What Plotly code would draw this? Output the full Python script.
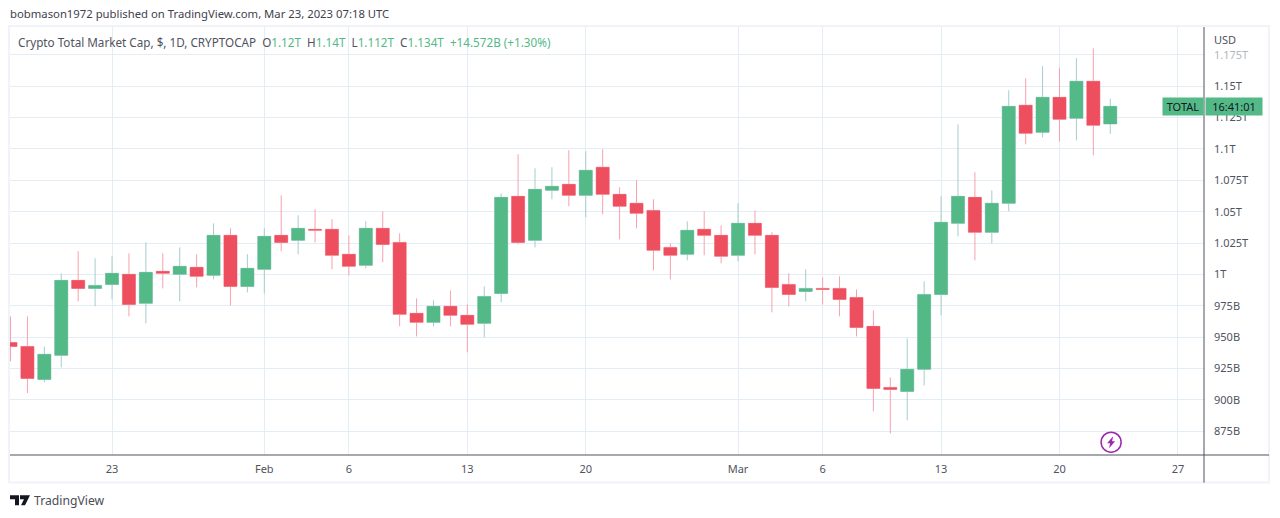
import plotly.graph_objects as go
import pandas as pd

# daily candles, values in billions of USD
dates = pd.date_range("2023-01-17", "2023-03-23", freq="D")
opens = [945.7, 942.5, 916.2, 935.4, 995.2, 988.8, 992, 1000, 976.9, 1002.4, 1000, 1005.6, 999.2, 1031.1, 990.4,
         1004, 1031.1, 1027.1, 1035.9, 1035.9, 1016, 1007.2, 1036.7, 1025.5, 968.9, 961.7, 974.5, 967.3, 960.9,
         984.8, 1062.2, 1027.1, 1067, 1071.8, 1063, 1085.4, 1063.8, 1056.7, 1051, 1021.5, 1016, 1035.9, 1031.1,
         1015.2, 1040.7, 1031.1, 992, 986.4, 988.8, 988.8, 981.6, 958.5, 909.8, 906.6, 924.2,
         984, 1040.7, 1061.4, 1033.5, 1056.7, 1134.9, 1113.3, 1141.2, 1124.5, 1154, 1120]
highs = [966.5, 966.5, 942.5, 1000.8, 1018.4, 1012.8, 1014.4, 1016.8, 1025.5, 1016.8, 1021.5, 1016, 1040.7, 1036.7, 1016,
         1036.7, 1063, 1047.1, 1051.9, 1043.9, 1031.1, 1042.3, 1050.3, 1032.7, 980.8, 979.3, 987.2, 976, 990.4,
         1064.6, 1095.8, 1084.6, 1085.4, 1099, 1098.2, 1099.8, 1069.4, 1075, 1059.9, 1024.7, 1042.3, 1050.3, 1039.1,
         1056.7, 1051, 1033.5, 1000.8, 1004, 997.6, 998.4, 988, 971.3, 917.8, 948.9, 994.4,
         1062.2, 1119.7, 1081.4, 1067, 1146.8, 1156.4, 1166, 1164.4, 1172.4, 1180.3, 1140]
lows = [930.6, 905.3, 913.8, 925.8, 978.5, 974.5, 980, 966.5, 960.9, 988.8, 978.5, 989.6, 996, 975.3, 985.6,
        984.8, 1018.4, 1016, 1025.5, 1004, 999.2, 1004.8, 1009.6, 958.5, 950.5, 958.5, 958.5, 937.8, 949.7,
        977.7, 1023.9, 1021.5, 1059.9, 1054.3, 1045.5, 1047.9, 1027.9, 1036.7, 1003.2, 996, 1011.2, 1015.2, 1008.8,
        1010.4, 1016, 969.7, 974.5, 978.5, 976, 966.5, 950.5, 890.7, 873.1, 883.5, 911.4,
        967.3, 1030.3, 1011.2, 1024.7, 1050.3, 1103.7, 1109.3, 1106.1, 1106.9, 1095, 1112]
closes = [942.5, 917, 936.2, 995.2, 988.8, 991.2, 1000.8, 976, 1001.6, 1000.8, 1006.4, 998.4, 1031.1, 990.4, 1004.8,
          1030.3, 1025.5, 1036.7, 1035.1, 1015.2, 1006.4, 1036.7, 1023.9, 968.1, 961.7, 974.5, 967.3, 960.1, 982.4,
          1061.4, 1025.5, 1067.8, 1070.2, 1063, 1083, 1063.8, 1054.3, 1048.7, 1019.2, 1015.2, 1035.1, 1031.1, 1014.4,
          1040.7, 1031.1, 989.6, 984, 988.8, 988, 980, 957.7, 909, 908.2, 924.2, 984,
          1041.5, 1062.2, 1033.5, 1056.7, 1134, 1112.5, 1141.2, 1123.7, 1154, 1118.9, 1134]

y_ticks = [875, 900, 925, 950, 975, 1000, 1025, 1050, 1075, 1100, 1125, 1150, 1175]
y_labels = ["875B", "900B", "925B", "950B", "975B", "1T", "1.025T", "1.05T", "1.075T", "1.1T", "1.125T", "1.15T",
            "<span style='color:#b5b7bd'>1.175T</span>"]
x_ticks = ["2023-01-23", "2023-02-01", "2023-02-06", "2023-02-13", "2023-02-20",
           "2023-03-01", "2023-03-06", "2023-03-13", "2023-03-20", "2023-03-27"]
x_labels = ["23", "Feb", "6", "13", "20", "Mar", "6", "13", "20", "27"]

FONT = "Noto Sans"
GREEN = "#53b987"
RED = "#ee4f5e"
GRID = "#e4edf3"
AXIS = "#50535e"
FRAME = "#f0f3fa"
TEXT = "#50535e"

fig = go.Figure()

# wicks sit in their own layer because they are paler than the bodies
fig.add_trace(go.Candlestick(
    x=dates, open=opens, high=highs, low=lows, close=closes,
    increasing=dict(line=dict(color="#a5cdcb", width=1), fillcolor=GREEN),
    decreasing=dict(line=dict(color="#f7a1ad", width=1), fillcolor=RED),
    whiskerwidth=0,
))
fig.add_trace(go.Candlestick(
    x=dates, open=opens, close=closes,
    high=[max(a, b) for a, b in zip(opens, closes)],
    low=[min(a, b) for a, b in zip(opens, closes)],
    increasing=dict(line=dict(color=GREEN, width=0), fillcolor=GREEN),
    decreasing=dict(line=dict(color=RED, width=0), fillcolor=RED),
    whiskerwidth=0,
))

fig.update_layout(
    width=1280,
    height=518,
    margin=dict(l=10, r=76, t=27, b=63),
    paper_bgcolor="white",
    plot_bgcolor="white",
    showlegend=False,
    boxmode="overlay",
    boxgap=0.23,
    boxgroupgap=0.0,
    hovermode=False,
    font=dict(family=FONT, size=11, color=TEXT),
    xaxis=dict(
        type="date",
        range=["2023-01-16 23:17", "2023-03-28 12:58"],
        rangeslider=dict(visible=False),
        tickmode="array",
        tickvals=x_ticks,
        ticktext=x_labels,
        tickangle=0,
        ticks="",
        ticklabelstandoff=6,
        showgrid=True,
        gridcolor=GRID,
        gridwidth=1,
        zeroline=False,
        showline=False,
    ),
    yaxis=dict(
        side="right",
        range=[855.9, 1197.3],
        tickmode="array",
        tickvals=y_ticks,
        ticktext=y_labels,
        ticks="",
        ticklabelstandoff=9,
        showgrid=True,
        gridcolor=GRID,
        gridwidth=1,
        zeroline=False,
        showline=False,
    ),
)

# chart frame and the two axis rules
fig.add_shape(type="rect", xref="paper", yref="paper", x0=-0.0008, x1=1.0545, y0=-0.0645, y1=1.0025,
              line=dict(color=FRAME, width=2), layer="below")
fig.add_shape(type="line", xref="paper", yref="paper", x0=0, x1=1.0545, y0=0, y1=0,
              line=dict(color=AXIS, width=1))
fig.add_shape(type="line", xref="paper", yref="paper", x0=1, x1=1, y0=-0.0645, y1=1.0,
              line=dict(color=AXIS, width=1))

# last price tags
fig.add_annotation(xref="paper", yref="y", x=1.0, y=closes[-1], xanchor="right", yanchor="middle",
                   text="TOTAL", showarrow=False, align="center", width=38, height=15, borderpad=1,
                   bgcolor=GREEN, font=dict(color="#131722", size=11))
fig.add_annotation(xref="paper", yref="y", x=1.0, y=closes[-1], xanchor="left", yanchor="middle", xshift=1,
                   text="16:41:01", showarrow=False, align="center", width=54, height=15, borderpad=1,
                   bgcolor=GREEN, font=dict(color="#131722", size=11))

fig.add_annotation(xref="paper", yref="paper", x=1.0065, y=1.0, yanchor="top", xanchor="left", yshift=-3,
                   text="USD", showarrow=False, font=dict(size=11, color=TEXT))

# header lines
fig.add_annotation(xref="paper", yref="paper", x=0, y=1.0, xanchor="left", yanchor="bottom", yshift=4, xshift=-2,
                   text="bobmason1972 published on TradingView.com, Mar 23, 2023 07:18 UTC",
                   showarrow=False, font=dict(size=11.3, color="#3f424d"))
g = "<span style='color:%s'>%%s</span>" % GREEN
fig.add_annotation(xref="paper", yref="paper", x=0, y=1.0, xanchor="left", yanchor="top", xshift=6, yshift=-5,
                   text="Crypto Total Market Cap, $, 1D, CRYPTOCAP  O" + g % "1.12T" + "  H" + g % "1.14T"
                        + "  L" + g % "1.112T" + "  C" + g % "1.134T" + "  " + g % "+14.572B (+1.30%)",
                   showarrow=False, font=dict(size=11.7, color=TEXT))

# TradingView footer
fig.add_annotation(xref="paper", yref="paper", x=0, y=0, xanchor="left", yanchor="top", xshift=22, yshift=-35,
                   text="TradingView", showarrow=False, font=dict(size=12.2, color="#4a4d57"))
fig.add_shape(type="path", xref="paper", yref="paper", xsizemode="pixel", ysizemode="pixel",
              xanchor=0, yanchor=-0.106, line=dict(width=0), fillcolor="#131722",
              path="M 0 5 L 9 5 L 9 -5 L 5 -5 L 5 1 L 0 1 Z M 10 5 L 20 5 L 15 -5 L 11 -5 L 14 1 L 10 1 Z")

# purple bolt badge
fig.add_shape(type="circle", xref="paper", yref="paper", xsizemode="pixel", ysizemode="pixel",
              xanchor=0.9222, yanchor=0.0299, x0=-10, x1=10, y0=-10, y1=10,
              line=dict(color="#9c27b0", width=1.5), fillcolor="white")
fig.add_shape(type="path", xref="paper", yref="paper", xsizemode="pixel", ysizemode="pixel",
              xanchor=0.9222, yanchor=0.0299, line=dict(width=0), fillcolor="#9c27b0",
              path="M 2 6 L -4 -1 L -1 -1 L -2 -6 L 4 1 L 1 1 Z")

fig.write_html("out.html", config=dict(displayModeBar=False), post_script="document.body.style.margin='0';")
